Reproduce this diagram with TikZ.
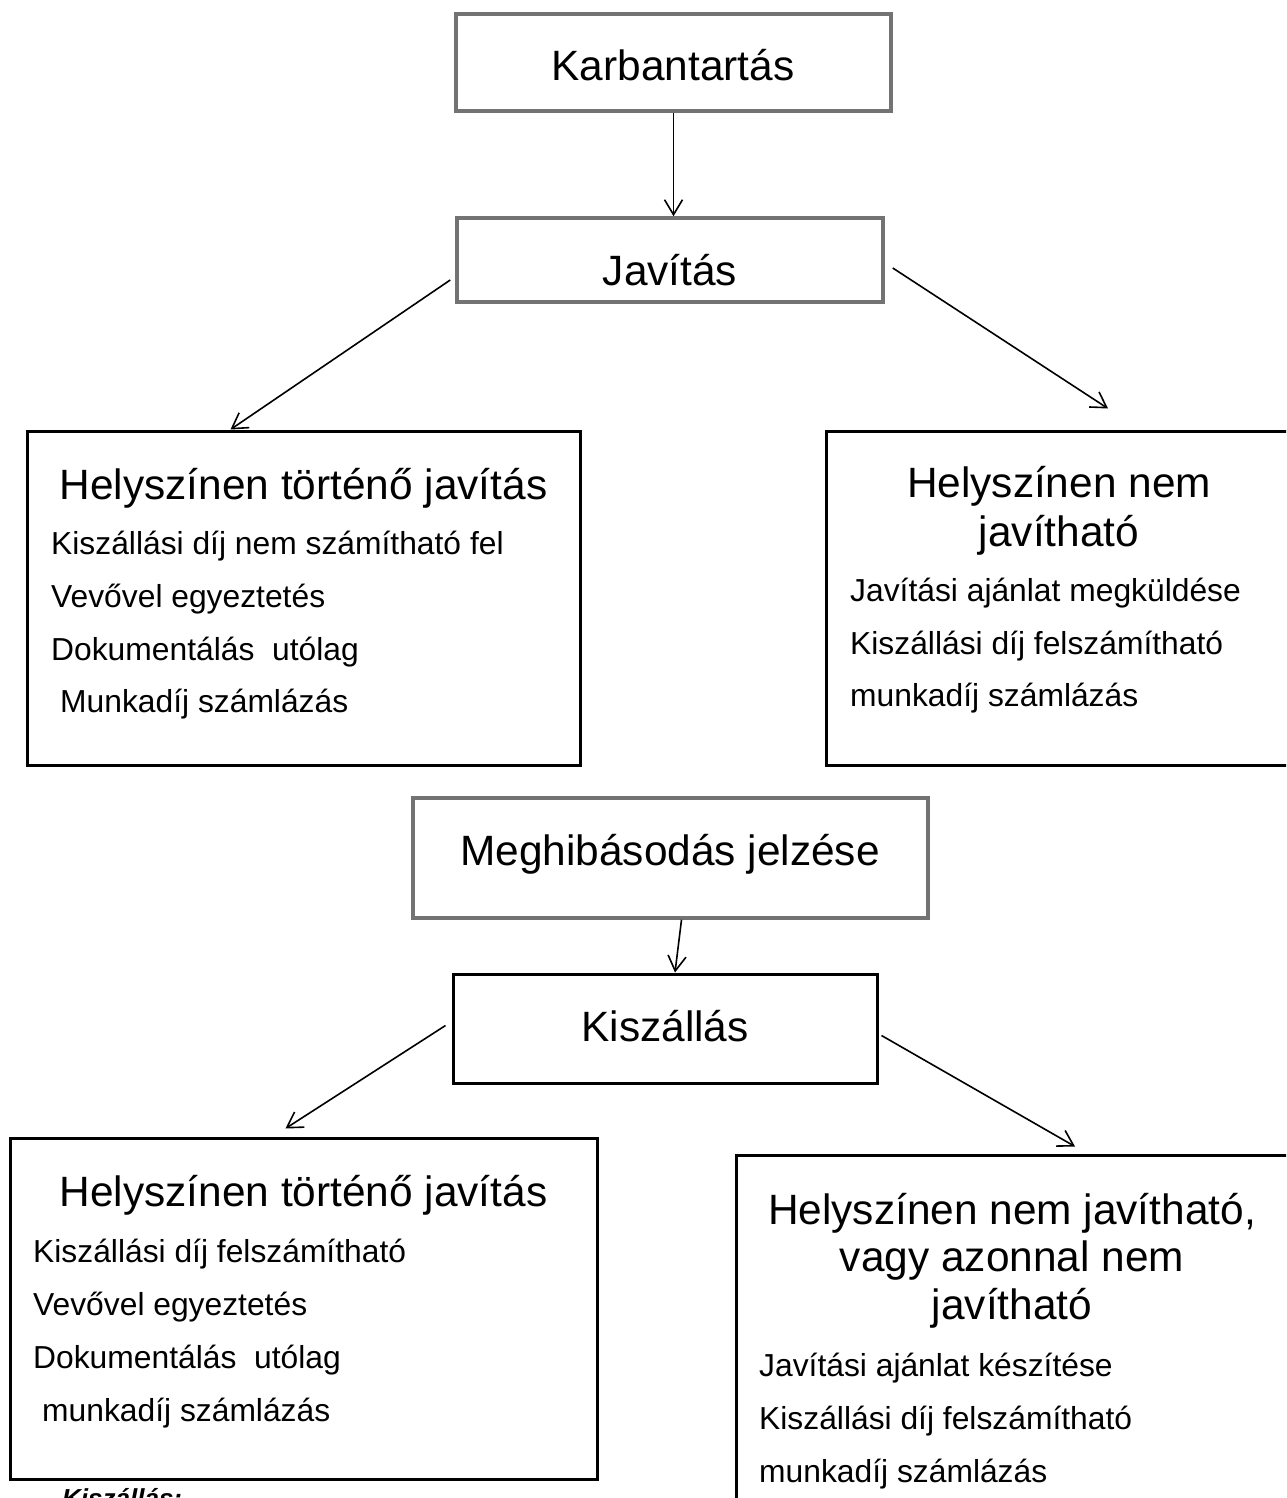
\documentclass[tikz,border=0pt]{standalone}
\usepackage{fontspec}
\setmainfont{Liberation Sans}
\usetikzlibrary{arrows.meta}
\begin{document}
\begin{tikzpicture}[x=1pt,y=-1pt,
  gbox/.style={draw=black!55, line width=3.5pt, inner sep=0pt},
  bbox/.style={draw=black, line width=3pt, inner sep=0pt},
  ttl/.style={font=\fontsize{42.4}{48}\selectfont, inner sep=0pt, anchor=base},
  txt/.style={font=\fontsize{31.8}{36}\selectfont, inner sep=0pt, anchor=base west},
  conn/.style={line width=1.6pt, -{Straight Barb[length=15pt,width=18pt,line width=1.6pt]}}]
\clip (0,0) rectangle (1286,1498);
\fill[white] (0,0) rectangle (1286,1498);

% boxes
\node[gbox, minimum width=435pt, minimum height=97pt] (karb) at (673.5,62.5) {};
\node[gbox, minimum width=426pt, minimum height=84pt] (jav) at (670,260) {};
\node[bbox, minimum width=553pt, minimum height=334pt] (left1) at (303.5,598) {};
\node[bbox, minimum width=474pt, minimum height=334pt] (right1) at (1063,598) {};
\node[gbox, minimum width=515pt, minimum height=120pt] (megh) at (670.5,858) {};
\node[bbox, minimum width=424pt, minimum height=109pt] (kisz) at (665,1028.5) {};
\node[bbox, minimum width=587pt, minimum height=341pt] (left2) at (303.5,1308.5) {};
\node[bbox, minimum width=564pt, minimum height=375pt] (right2) at (1018,1342.5) {};

% texts
\node[ttl] (karbT) at (673,81) {Karbantartás};
\node[ttl] (javT) at (670,285) {Javítás};

\node[ttl] (l1T) at (303.5,499) {Helyszínen történő javítás};
\node[txt] (l1a) at (51,554) {Kiszállási díj nem számítható fel};
\node[txt] (l1b) at (51,607) {Vevővel egyeztetés};
\node[txt] (l1c) at (51,660) {Dokumentálás\ \ utólag};
\node[txt] (l1d) at (60,712) {Munkadíj számlázás};

\node[ttl] (r1T1) at (1059,497) {Helyszínen nem};
\node[ttl] (r1T2) at (1059,546) {javítható};
\node[txt] (r1a) at (850,601) {Javítási ajánlat megküldése};
\node[txt] (r1b) at (850,654) {Kiszállási díj felszámítható};
\node[txt] (r1c) at (850,706) {munkadíj számlázás};

\node[ttl] (meghT) at (670,865) {Meghibásodás jelzése};
\node[ttl] (kiszT) at (665,1041) {Kiszállás};

\node[ttl] (l2T) at (303.5,1206) {Helyszínen történő javítás};
\node[txt] (l2a) at (33,1262) {Kiszállási díj felszámítható};
\node[txt] (l2b) at (33,1315) {Vevővel egyeztetés};
\node[txt] (l2c) at (33,1368) {Dokumentálás\ \ utólag};
\node[txt] (l2d) at (42,1421) {munkadíj számlázás};

\node[ttl] (r2T1) at (1012,1224) {Helyszínen nem javítható,};
\node[ttl] (r2T2) at (1012,1271) {vagy azonnal nem};
\node[ttl] (r2T3) at (1012,1319) {javítható};
\node[txt] (r2a) at (759,1376) {Javítási ajánlat készítése};
\node[txt] (r2b) at (759,1429) {Kiszállási díj felszámítható};
\node[txt] (r2c) at (759,1482) {munkadíj számlázás};

\node[font=\fontsize{26}{30}\selectfont\bfseries\itshape, inner sep=0pt, anchor=base west] (note) at (62,1507) {Kiszállás:};

% connectors
\draw[conn] (karb.south) -- (karb.south |- jav.north);
\draw[conn] ([xshift=-5pt,yshift=-20pt]jav.west) -- ([xshift=-73pt]left1.north);
\draw[conn] ([xshift=8pt,yshift=-8pt]jav.east) -- ([xshift=45pt,yshift=21pt]right1.north);
\draw[conn] ([xshift=11pt]megh.south) -- ([xshift=10pt]kisz.north);
\draw[conn] ([xshift=-6pt,yshift=3pt]kisz.west) -- ([xshift=-18pt,yshift=8pt]left2.north);
\draw[conn] ([xshift=3pt,yshift=-7pt]kisz.east) -- ([xshift=57pt,yshift=7pt]right2.north);
\end{tikzpicture}
\end{document}
